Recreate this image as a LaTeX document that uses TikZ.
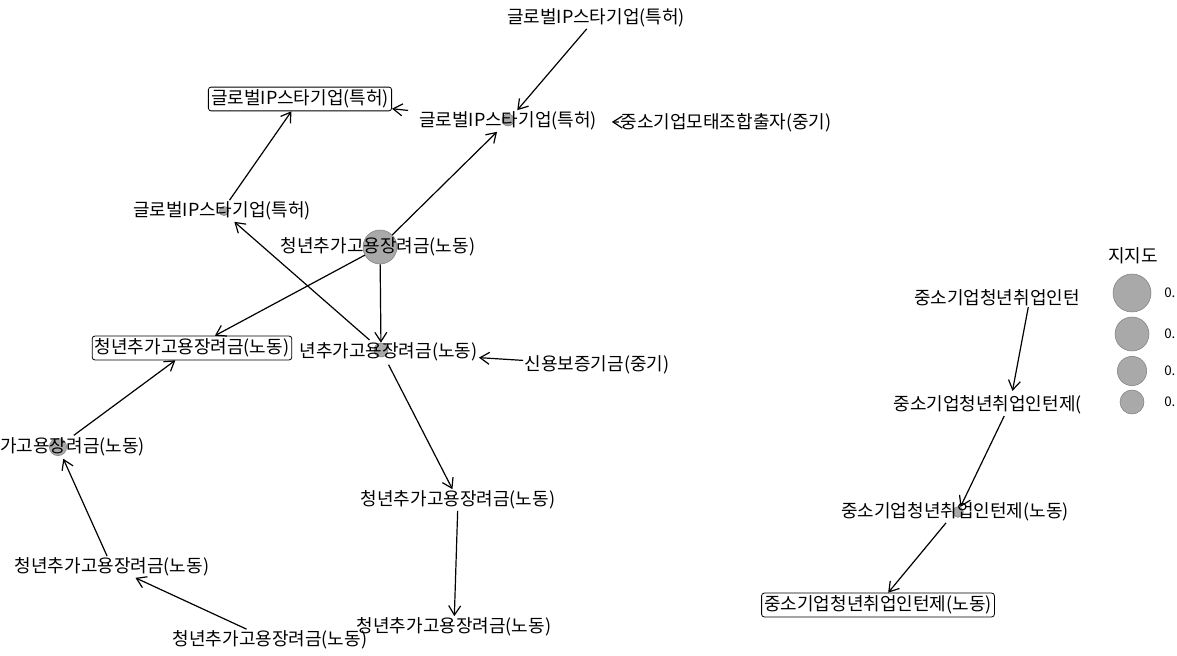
\documentclass[tikz,border=0pt]{standalone}
\usepackage{fontspec}
\setmainfont{Noto Sans CJK KR}
\usetikzlibrary{arrows.meta}

\definecolor{vgrey}{HTML}{A9A9A9}
\definecolor{vedge}{HTML}{7F7F7F}

\tikzset{
  lbl/.style={inner sep=1pt, font=\fontsize{13.5}{15}\selectfont},
  boxlbl/.style={lbl, draw, rounded corners=2pt, fill=white, inner sep=2pt, line width=0.6pt},
  vtx/.style={circle, fill=vgrey, draw=vedge, inner sep=0pt, minimum size=#1},
  rel/.style={-{Straight Barb[length=7pt,width=9pt]}, line width=0.9pt},
}

\begin{document}
\begin{tikzpicture}[x=0.75pt,y=-0.75pt]
\useasboundingbox (0,0) rectangle (1177,656);
\clip (0,0) rectangle (1177,656);

% vertices
\node[vtx=9pt] (v2) at (508,120) {};
\node[vtx=7pt] (v5) at (224,211) {};
\node[vtx=25.5pt] (v6) at (380,247) {};
\node[vtx=10.5pt] (v7) at (381,350) {};
\node[vtx=13pt] (v11) at (58,447) {};
\node[vtx=8pt] (vr3) at (958,512) {};
\coordinate (vr1) at (1030,298);
\coordinate (vr2) at (1010,404);

% labels
\node[lbl] (t1) at (596,18) {글로벌IP스타기업(특허)};
\node[lbl] (t2) at (508,121) {글로벌IP스타기업(특허)};
\node[lbl] (t3) at (726,123) {중소기업모태조합출자(중기)};
\node[lbl] (t5) at (222,211) {글로벌IP스타기업(특허)};
\node[lbl] (t6) at (378,247) {청년추가고용장려금(노동)};
\node[lbl, anchor=west] (t7) at (298,352) {년추가고용장려금(노동)};
\node[lbl] (t8) at (597,365) {신용보증기금(중기)};
\node[lbl] (t9) at (458,500) {청년추가고용장려금(노동)};
\node[lbl] (t10) at (454,627) {청년추가고용장려금(노동)};
\node[lbl, anchor=west, inner sep=0pt] (t11) at (0,447) {가고용장려금(노동)};
\node[lbl] (t12) at (112,567) {청년추가고용장려금(노동)};
\node[lbl] (t13) at (270,640) {청년추가고용장려금(노동)};
\node[boxlbl] (b1) at (300,99) {글로벌IP스타기업(특허)};
\node[boxlbl] (b2) at (192,348) {청년추가고용장려금(노동)};

\begin{scope}
\clip (740,0) rectangle (1080,656);
\node[lbl, anchor=east, inner sep=0pt] (tr1) at (1080,298) {중소기업청년취업인턴};
\node[lbl, anchor=east, inner sep=0pt] (tr2) at (1082,405) {중소기업청년취업인턴제(};
\node[lbl] (tr3) at (955,512) {중소기업청년취업인턴제(노동)};
\end{scope}
\node[boxlbl] (br4) at (878,605) {중소기업청년취업인턴제(노동)};

% edges
\draw[rel] (t1) -- (t2);
\draw[rel, shorten >=10pt] (t3) -- (t2);
\draw[rel, shorten <=7pt] (t2) -- (b1);
\draw[rel] (t5) -- (b1);
\draw[rel] (v6) -- (t2);
\draw[rel] (v6) -- (v7);
\draw[rel] (v6) -- (b2);
\draw[rel, shorten <=6pt] (v7) -- (t5);
\draw[rel] (t8) -- (t7);
\draw[rel, shorten <=7pt] (v7) -- (t9);
\draw[rel] (t9) -- (t10);
\draw[rel, shorten <=8pt] (v11) -- (b2);
\draw[rel, shorten >=3pt] (t12) -- (v11);
\draw[rel] (t13) -- (t12);
\draw[rel, shorten <=7pt, shorten >=10pt] (vr1) -- (vr2);
\draw[rel, shorten <=10pt] (vr2) -- (vr3);
\draw[rel] (tr3) -- (br4);

% legend
\node[lbl] (lgd) at (1133,256) {지지도};
\node[vtx=28.5pt] (lg1) at (1132,293) {};
\node[vtx=25.5pt] (lg2) at (1132,334) {};
\node[vtx=22pt] (lg3) at (1132,371) {};
\node[vtx=18pt] (lg4) at (1132,402) {};
\foreach \yy in {293,334,371,402}
  \node[anchor=west, inner sep=0pt, font=\fontsize{10}{11}\selectfont] at (1164,\yy) {0.};
\end{tikzpicture}
\end{document}
